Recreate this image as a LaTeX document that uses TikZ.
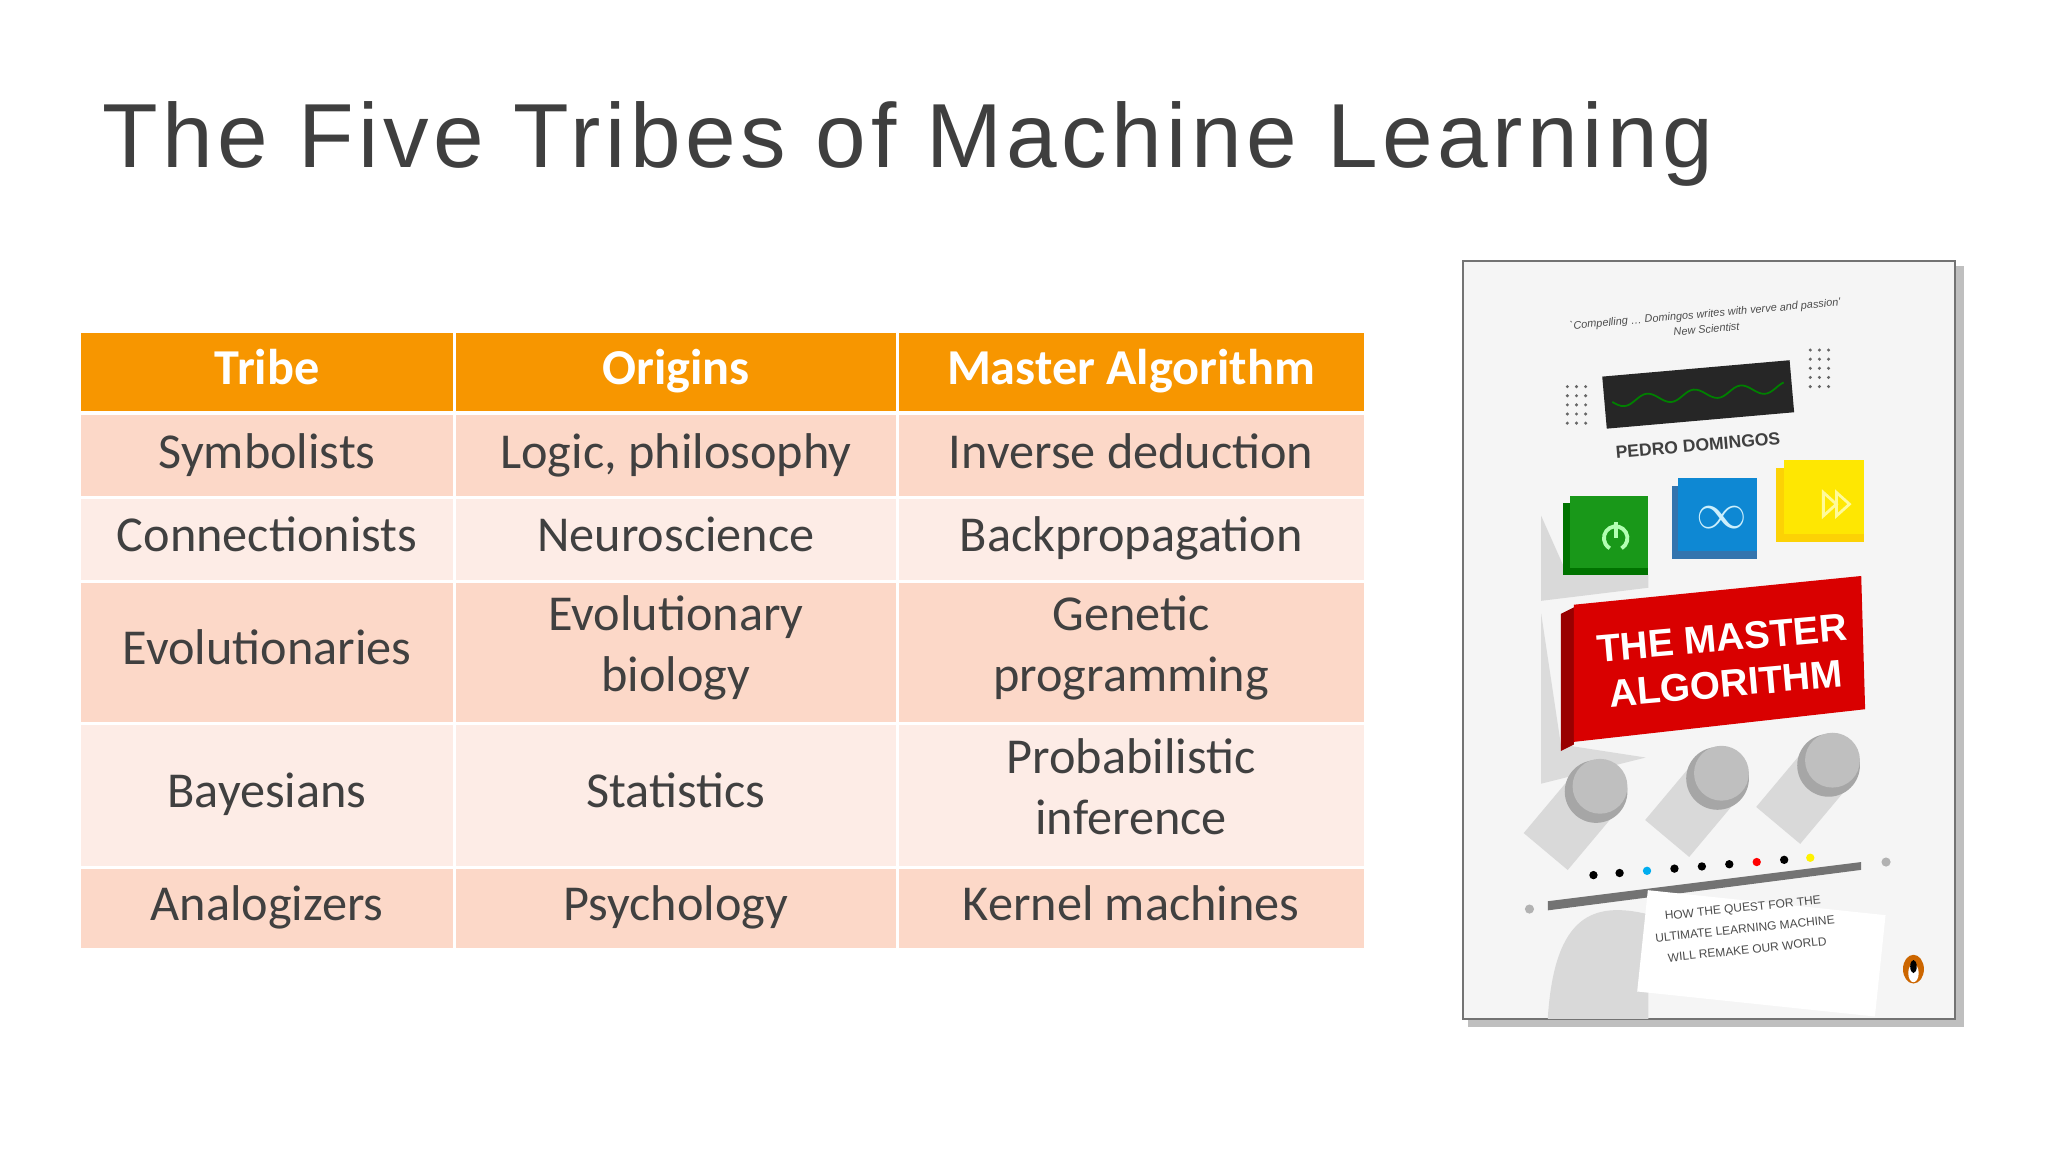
\documentclass[tikz,border=0pt]{standalone}
\usepackage{fontspec}
\setmainfont{Carlito}
\newfontfamily\titlefont[LetterSpace=5]{Liberation Sans}
\newfontfamily\coverfont{Liberation Sans}
\usetikzlibrary{calc}
\definecolor{hdr}{HTML}{F79600}
\definecolor{rowA}{HTML}{FCD8C8}
\definecolor{rowB}{HTML}{FDECE6}
\definecolor{ttl}{HTML}{3F3F3F}
\definecolor{txt}{HTML}{404040}
\tikzset{celltext/.style={font=\fontsize{14.3}{17.4}\selectfont,text=txt,align=center,inner sep=0pt,execute at begin node={\strut},execute at end node={\strut}},
 hdrtext/.style={celltext,font=\fontsize{14.3}{17.4}\selectfont\bfseries,text=white}}
\newcommand\mycell[7]{\fill[#6] (#2,#3) rectangle (#4,#5);
 \node[#7] (#1) at ($(#2,#3)!0.5!(#4,#5)$) }
\begin{document}
\begin{tikzpicture}[x=0.013061cm,y=-0.013061cm]
\useasboundingbox (0,0) rectangle (1568,882);
\fill[white] (0,0) rectangle (1568,882);
\node[anchor=base west,inner sep=0pt,text=ttl,font=\fontsize{25.9}{30}\titlefont] (title) at (78,128) {The Five Tribes of Machine Learning};
% table
\def\ca{62}\def\cb{347}\def\cc{349}\def\cd{686}\def\ce{688}\def\cf{1044}
\mycell{h1}{\ca}{255}{\cb}{315}{hdr}{hdrtext}{Tribe};
\mycell{h2}{\cc}{255}{\cd}{315}{hdr}{hdrtext}{Origins};
\mycell{h3}{\ce}{255}{\cf}{315}{hdr}{hdrtext}{Master Algorithm};
\mycell{a1}{\ca}{318}{\cb}{380}{rowA}{celltext}{Symbolists};
\mycell{a2}{\cc}{318}{\cd}{380}{rowA}{celltext}{Logic, philosophy};
\mycell{a3}{\ce}{318}{\cf}{380}{rowA}{celltext}{Inverse deduction};
\mycell{b1}{\ca}{382}{\cb}{444}{rowB}{celltext}{Connectionists};
\mycell{b2}{\cc}{382}{\cd}{444}{rowB}{celltext}{Neuroscience};
\mycell{b3}{\ce}{382}{\cf}{444}{rowB}{celltext}{Backpropagation};
\mycell{c1}{\ca}{446}{\cb}{553}{rowA}{celltext}{Evolutionaries};
\mycell{c2}{\cc}{446}{\cd}{553}{rowA}{celltext}{Evolutionary\\biology};
\mycell{c3}{\ce}{446}{\cf}{553}{rowA}{celltext}{Genetic\\programming};
\mycell{d1}{\ca}{555}{\cb}{663}{rowB}{celltext}{Bayesians};
\mycell{d2}{\cc}{555}{\cd}{663}{rowB}{celltext}{Statistics};
\mycell{d3}{\ce}{555}{\cf}{663}{rowB}{celltext}{Probabilistic\\inference};
\mycell{e1}{\ca}{665}{\cb}{726}{rowA}{celltext}{Analogizers};
\mycell{e2}{\cc}{665}{\cd}{726}{rowA}{celltext}{Psychology};
\mycell{e3}{\ce}{665}{\cf}{726}{rowA}{celltext}{Kernel machines};
% book cover
\fill[black!25] (1124,204) rectangle (1504,786);
\path[draw=black!55,line width=0.6pt,fill=black!4] (1120,200) rectangle (1497,780);
\fill[black!15] (1185,780) .. controls (1190,700) and (1220,690) .. (1262,700) -- (1262,780) -- cycle;
\node[rotate=5,font=\fontsize{3.1}{4.4}\itshape\coverfont,text=black!70,align=center] (quote) at (1306,246) {`Compelling \dots\ Domingos writes with verve and passion'\\New Scientist};
\fill[black!85,rotate around={5:(1300,300)}] (1228,282) rectangle (1372,322);
\draw[green!50!black,line width=0.5pt,rotate around={5:(1300,300)}] plot[domain=1234:1366,samples=60] (\x,{302+4*sin((\x-1234)*10)});
\foreach \i in {0,1,2}{\foreach \j in {0,...,4}{
 \fill[black!60] (1200+\i*7,296+\j*7) circle (1.3);
 \fill[black!60] (1386+\i*7,268+\j*7) circle (1.3);}}
\node[rotate=5,font=\fontsize{5}{6}\bfseries\coverfont,text=black!75] (author) at (1300,341) {PEDRO DOMINGOS};
% buttons
\fill[black!15] (1180,395) -- (1200,440) -- (1262,440) -- (1262,450) -- (1180,460) -- cycle;
\fill[green!45!black] (1197,385) rectangle (1262,440);
\fill[green!55!black!90] (1202,380) rectangle (1262,435);
\draw[green!30,line width=1.1pt] (1237,412) ++(60:9) arc (60:-240:9);
\draw[green!30,line width=1.1pt] (1237,400) -- (1237,412);
\fill[cyan!60!blue!80!black] (1280,372) rectangle (1345,428);
\fill[cyan!70!blue] (1285,366) rectangle (1345,422);
\node[text=cyan!20,font=\fontsize{14}{14}\coverfont] (inf) at (1318,396) {$\infty$};
\fill[yellow!70!orange] (1360,358) rectangle (1427,415);
\fill[yellow!90!orange] (1366,352) rectangle (1427,409);
\draw[yellow!40,line width=0.8pt] (1396,377)--(1406,386)--(1396,395)--cycle (1406,377)--(1416,386)--(1406,395)--cycle;
% red block
\fill[black!14] (1180,470) -- (1195,570) -- (1260,580) -- (1180,600) -- cycle;
\fill[red!60!black] (1195,470) -- (1205,465) -- (1205,570) -- (1195,575) -- cycle;
\fill[red!85!black] (1205,463) -- (1425,441) -- (1428,543) -- (1205,568) -- cycle;
\node[rotate=5,font=\fontsize{11}{13}\bfseries\coverfont,text=white,align=center] (mtitle) at (1320,506) {THE MASTER\\ALGORITHM};
% knobs
\foreach \x/\y in {1222/606,1315/596,1400/586}{
 \fill[black!15,rotate around={-40:(\x,\y)}] (\x-22,\y) rectangle (\x+22,\y+60);
 \fill[black!35] (\x,\y) circle (24);
 \fill[black!25] (\x+3,\y-4) circle (21);}
% dots
\foreach \x/\c in {1220/black,1240/black,1261/cyan,1282/black,1303/black,1324/black,1345/red,1366/black,1386/yellow}{
 \fill[\c] (\x,{670-(\x-1220)*0.08}) circle (3.2);}
\fill[black!30] (1171,696) circle (3.5);
\fill[black!30] (1444,660) circle (3.5);
\fill[black!55] (1185,690) -- (1425,660) -- (1425,666) -- (1185,697) -- cycle;
\fill[white,rotate around={-6:(1340,730)}] (1257,690) rectangle (1440,768);
\node[rotate=6,font=\fontsize{3.4}{6}\coverfont,text=black!70,align=center] (sub) at (1336,711) {HOW THE QUEST FOR THE\\ULTIMATE LEARNING MACHINE\\WILL REMAKE OUR WORLD};
\fill[orange!80!black] (1465,742) ellipse (8 and 11);
\fill[white] (1465,745) ellipse (4 and 7);
\fill[black] (1465,740) ellipse (2.5 and 5);
\end{tikzpicture}
\end{document}
